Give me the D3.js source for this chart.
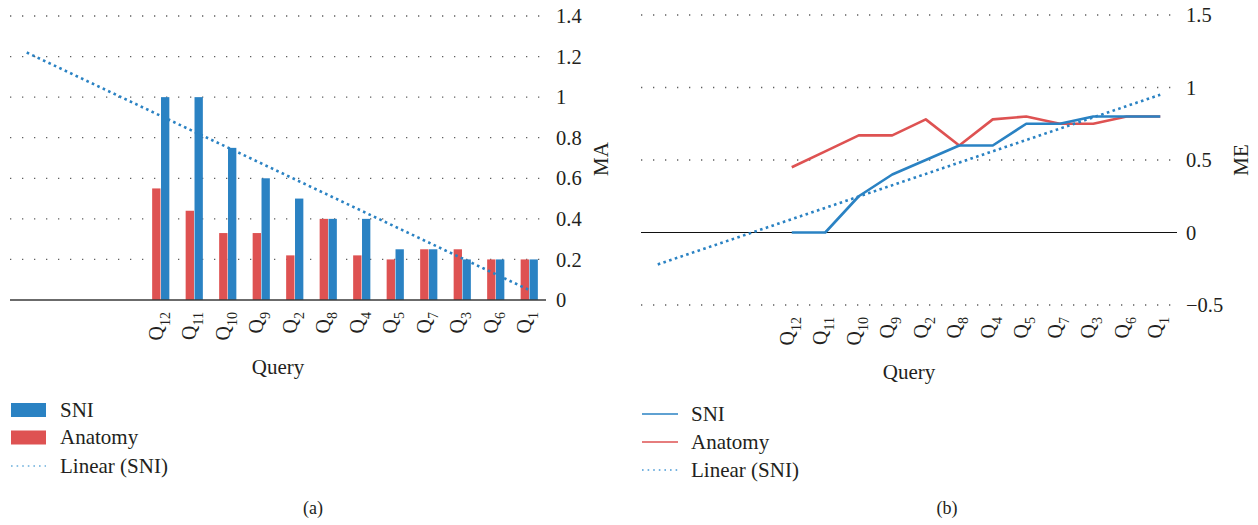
<!DOCTYPE html>
<html>
<head>
<meta charset="utf-8">
<script src="https://cdn.jsdelivr.net/npm/d3@7/dist/d3.min.js"></script>
<style>
  html, body { margin: 0; padding: 0; background: #fff; }
  svg { display: block; font-family: "Liberation Serif", "DejaVu Serif", serif; }
  text { fill: #231f20; }
</style>
</head>
<body>
<svg id="chart" width="1258" height="525"></svg>
<script>
// Queries, in display order
const queries = ["12", "11", "10", "9", "2", "8", "4", "5", "7", "3", "6", "1"];
const leadSlots = ["e1", "e2", "e3", "e4"]; // empty forecast slots before Q12

// (a) MA per query
const maSNI      = [1, 1, 0.75, 0.6, 0.5, 0.4, 0.4, 0.25, 0.25, 0.2, 0.2, 0.2];
const maAnatomy  = [0.55, 0.44, 0.33, 0.33, 0.22, 0.4, 0.22, 0.2, 0.25, 0.25, 0.2, 0.2];
const maLinear   = [1.22, 0.049];   // trend value at first and last slot
const maTicks    = [0, 0.2, 0.4, 0.6, 0.8, 1, 1.2, 1.4];

// (b) ME per query
const meSNI      = [0, 0, 0.25, 0.4, 0.5, 0.6, 0.6, 0.75, 0.75, 0.8, 0.8, 0.8];
const meAnatomy  = [0.45, 0.56, 0.67, 0.67, 0.78, 0.6, 0.78, 0.8, 0.75, 0.75, 0.8, 0.8];
const meLinear   = [-0.22, 0.95];
const meTicks    = [-0.5, 0, 0.5, 1, 1.5];
const meTickText = ["\u22120.5", "0", "0.5", "1", "1.5"];

const seriesNames = ["SNI", "Anatomy", "Linear (SNI)"];

const BLUE = "#2a82c3";
const RED = "#de5252";

const TICK_FS = "20.5px";
const TITLE_FS = "21px";

const svg = d3.select("#chart");
const slots = leadSlots.concat(queries);

function qLabel(sel, x, y) {
  sel.each(function (d) {
    const t = d3.select(this).append("text")
      .attr("transform", `translate(${x(d) + 2},${y}) rotate(-90)`)
      .attr("text-anchor", "end")
      .style("font-size", "20px");
    t.append("tspan").text("Q");
    t.append("tspan").attr("dy", 7).style("font-size", "14px").text(d);
  });
}

function gridLines(g, y, values, x0, x1) {
  g.selectAll("line.grid").data(values).join("line")
    .attr("class", "grid")
    .attr("x1", x0).attr("x2", x1)
    .attr("y1", d => y(d)).attr("y2", d => y(d))
    .attr("stroke", "#5f5f5f")
    .attr("stroke-width", 1.3)
    .attr("stroke-dasharray", "1.3,10.7");
}

function yLabels(g, y, values, texts, xPos) {
  g.selectAll("text.ytick").data(values).join("text")
    .attr("class", "ytick")
    .attr("x", xPos).attr("y", d => y(d))
    .attr("dy", "0.35em")
    .style("font-size", TICK_FS)
    .text((d, i) => texts ? texts[i] : d3.format("~g")(d));
}

// ---------- (a) grouped bars ----------
{
  const x = d3.scaleBand().domain(slots).range([10, 546]);
  const y = d3.scaleLinear().domain([0, 1.4]).range([300, 16]);
  const inner = d3.scaleBand().domain(["Anatomy", "SNI"])
    .range([0, x.bandwidth()]).paddingInner(0.06).paddingOuter(0.92);
  const g = svg.append("g");

  gridLines(g, y, maTicks.filter(v => v !== 0), 10, 546);

  const rows = queries.map((q, i) => ({ q, SNI: maSNI[i], Anatomy: maAnatomy[i] }));
  const grp = g.selectAll("g.q").data(rows).join("g")
    .attr("transform", d => `translate(${x(d.q)},0)`);
  grp.selectAll("rect").data(d => [["Anatomy", d.Anatomy], ["SNI", d.SNI]]).join("rect")
    .attr("x", d => inner(d[0]))
    .attr("width", inner.bandwidth())
    .attr("y", d => y(d[1]))
    .attr("height", d => y(0) - y(d[1]))
    .attr("fill", d => d[0] === "SNI" ? BLUE : RED);

  // baseline
  g.append("line").attr("x1", 10).attr("x2", 546)
    .attr("y1", y(0)).attr("y2", y(0))
    .attr("stroke", "#3a3a3a").attr("stroke-width", 1.6);

  // linear trend of SNI
  const cx = d => x(d) + x.bandwidth() / 2;
  g.append("line")
    .attr("x1", cx(slots[0])).attr("y1", y(maLinear[0]))
    .attr("x2", cx(slots[slots.length - 1])).attr("y2", y(maLinear[1]))
    .attr("stroke", BLUE).attr("stroke-width", 2.6)
    .attr("stroke-dasharray", "2.6,3.4");

  yLabels(g, y, maTicks, null, 556);
  g.append("text").attr("transform", `translate(608,159) rotate(-90)`)
    .attr("text-anchor", "middle").style("font-size", TITLE_FS).text("MA");

  g.append("g").selectAll("g").data(queries).join("g")
    .call(sel => qLabel(sel, cx, 312));
  g.append("text").attr("x", 278).attr("y", 374).attr("text-anchor", "middle")
    .style("font-size", TITLE_FS).text("Query");

  // legend
  const lg = g.append("g");
  const ly = [410, 437.5, 466];
  lg.append("rect").attr("x", 11).attr("y", ly[0] - 7).attr("width", 35).attr("height", 14).attr("fill", BLUE);
  lg.append("rect").attr("x", 11).attr("y", ly[1] - 7).attr("width", 35).attr("height", 14).attr("fill", RED);
  lg.append("line").attr("x1", 11).attr("x2", 46).attr("y1", ly[2]).attr("y2", ly[2])
    .attr("stroke", "#6aaedc").attr("stroke-width", 1.6).attr("stroke-dasharray", "1.6,4");
  lg.selectAll("text").data(seriesNames).join("text")
    .attr("x", 60).attr("y", (d, i) => ly[i]).attr("dy", "0.33em")
    .style("font-size", TITLE_FS).text(d => d);

  g.append("text").attr("x", 313).attr("y", 514).attr("text-anchor", "middle")
    .style("font-size", "18px").text("(a)");
}

// ---------- (b) lines ----------
{
  const x = d3.scalePoint().domain(slots).range([641, 1177]).padding(0.5);
  const y = d3.scaleLinear().domain([-0.5, 1.5]).range([305, 15]);
  const g = svg.append("g");

  gridLines(g, y, meTicks.filter(v => v !== 0), 641, 1177);
  g.append("line").attr("x1", 641).attr("x2", 1177)
    .attr("y1", y(0)).attr("y2", y(0))
    .attr("stroke", "#111").attr("stroke-width", 1.2);

  const line = d3.line().x((d, i) => x(queries[i])).y(d => y(d));
  g.append("path").attr("d", line(meAnatomy))
    .attr("fill", "none").attr("stroke", RED).attr("stroke-width", 2.6)
    .attr("stroke-linejoin", "round");
  g.append("path").attr("d", line(meSNI))
    .attr("fill", "none").attr("stroke", BLUE).attr("stroke-width", 2.6)
    .attr("stroke-linejoin", "round");

  g.append("line")
    .attr("x1", x(slots[0])).attr("y1", y(meLinear[0]))
    .attr("x2", x(slots[slots.length - 1])).attr("y2", y(meLinear[1]))
    .attr("stroke", BLUE).attr("stroke-width", 2.6)
    .attr("stroke-dasharray", "2.6,3.4");

  yLabels(g, y, meTicks, meTickText, 1186);
  g.append("text").attr("transform", `translate(1248,160) rotate(-90)`)
    .attr("text-anchor", "middle").style("font-size", TITLE_FS).text("ME");

  g.append("g").selectAll("g").data(queries).join("g")
    .call(sel => qLabel(sel, x, 317));
  g.append("text").attr("x", 909).attr("y", 379).attr("text-anchor", "middle")
    .style("font-size", TITLE_FS).text("Query");

  const lg = g.append("g");
  const ly = [414, 442, 470];
  lg.append("line").attr("x1", 642).attr("x2", 678).attr("y1", ly[0]).attr("y2", ly[0])
    .attr("stroke", BLUE).attr("stroke-width", 1.6);
  lg.append("line").attr("x1", 642).attr("x2", 678).attr("y1", ly[1]).attr("y2", ly[1])
    .attr("stroke", RED).attr("stroke-width", 1.6);
  lg.append("line").attr("x1", 642).attr("x2", 678).attr("y1", ly[2]).attr("y2", ly[2])
    .attr("stroke", "#4a9ad6").attr("stroke-width", 1.6).attr("stroke-dasharray", "1.6,4");
  lg.selectAll("text").data(seriesNames).join("text")
    .attr("x", 691).attr("y", (d, i) => ly[i]).attr("dy", "0.33em")
    .style("font-size", TITLE_FS).text(d => d);

  g.append("text").attr("x", 947).attr("y", 514).attr("text-anchor", "middle")
    .style("font-size", "18px").text("(b)");
}
</script>
</body>
</html>
